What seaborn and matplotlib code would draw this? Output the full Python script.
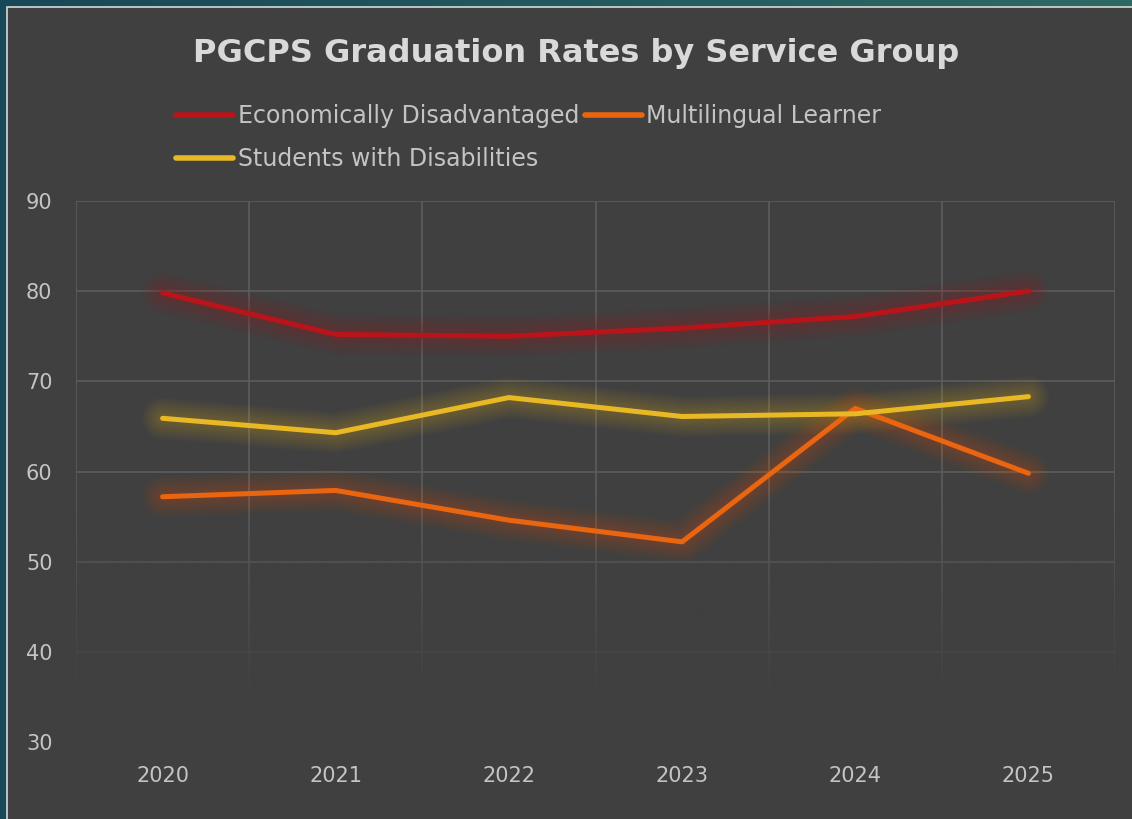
import numpy as np
import pandas as pd
import seaborn as sns
import matplotlib.pyplot as plt
from matplotlib.lines import Line2D
from matplotlib.patches import Rectangle

# DATA
years = [2020, 2021, 2022, 2023, 2024, 2025]
econ_disadv = [79.8, 75.2, 75.0, 75.9, 77.2, 80.0]
multilingual = [57.2, 57.9, 54.6, 52.2, 67.0, 59.8]
disabilities = [65.9, 64.3, 68.2, 66.1, 66.4, 68.3]
groups = ["Economically Disadvantaged", "Multilingual Learner", "Students with Disabilities"]
colors = {"Economically Disadvantaged": "#b8141a",
          "Multilingual Learner": "#ea6510",
          "Students with Disabilities": "#e9b825"}

df = pd.DataFrame({
    "Year": years * 3,
    "Rate": econ_disadv + multilingual + disabilities,
    "Group": [g for g in groups for _ in years],
})

# STYLE
sns.set_style("dark")
plt.rcParams["font.family"] = ["DejaVu Sans"]
bg = "#404040"
txt = "#c4c4c4"

fig = plt.figure(figsize=(11.32, 8.19), dpi=100)

# teal frame + gray panel
back = fig.add_axes([0, 0, 1, 1], zorder=-5)
grad = np.linspace(0, 1, 256).reshape(1, -1)
teal = np.array([[0x17, 0x48, 0x58], [0x2e, 0x6a, 0x64]]) / 255
img = teal[0] + grad[..., None] * (teal[1] - teal[0])
back.imshow(img, aspect="auto", extent=[0, 1, 0, 1])
back.add_patch(Rectangle((7 / 1132, -0.01), 1.01, 1 - 7 / 819 + 0.01,
                         facecolor=bg, edgecolor="#d8d8d8", linewidth=1.2))
back.set_xlim(0, 1)
back.set_ylim(0, 1)
back.axis("off")

ax = fig.add_axes([76 / 1132, 1 - 742 / 819, (1115 - 76) / 1132, (742 - 201) / 819])
ax.set_facecolor("none")

# soft glow underneath
for g in groups:
    sub = df[df["Group"] == g]
    for w in np.arange(6, 32, 2):
        ax.plot(sub["Year"], sub["Rate"], color=colors[g], lw=w, alpha=0.024,
                solid_capstyle="round", solid_joinstyle="round", zorder=1.8)

sns.lineplot(data=df, x="Year", y="Rate", hue="Group", palette=colors,
             linewidth=3.6, legend=False, ax=ax, zorder=2.5)
for ln in ax.lines[-3:]:
    ln.set_solid_capstyle("round")

ax.set_xlim(2019.5, 2025.5)
ax.set_ylim(30, 90)
ax.set_xticks(years)
ax.set_xticks(np.arange(2019.5, 2026, 1), minor=True)
ax.set_yticks(np.arange(30, 91, 10))
ax.grid(False)
ax.grid(True, which="minor", axis="x", color="#5c5c5c", lw=1.2)
ax.grid(True, which="major", axis="y", color="#5c5c5c", lw=1.2)
ax.set_axisbelow(True)
for s in ax.spines.values():
    s.set_visible(False)
ax.tick_params(which="both", length=0)
ax.tick_params(axis="y", pad=17, labelsize=15, labelcolor=txt)
ax.tick_params(axis="x", pad=17, labelsize=15, labelcolor=txt)
ax.set_xlabel("")
ax.set_ylabel("")

# fade the lower grid
fade = np.zeros((200, 1, 4))
fade[..., :3] = np.array([0x40, 0x40, 0x40]) / 255
fade[..., 3] = np.clip(np.linspace(1.3, -0.1, 200), 0, 1)[:, None]
ax.imshow(fade, aspect="auto", extent=[2019.5, 2025.5, 28, 60], origin="lower",
          zorder=1.2, interpolation="bilinear")
ax.set_xlim(2019.5, 2025.5)
ax.set_ylim(30, 90)

fig.text(0.509, 0.935, "PGCPS Graduation Rates by Service Group", ha="center", va="center",
         fontsize=23, fontweight="bold", color="#d9d9d9")

order = ["Economically Disadvantaged", "Students with Disabilities", "Multilingual Learner"]
handles = [Line2D([], [], color=colors[g], lw=4, solid_capstyle="round") for g in order]
fig.legend(handles, order, ncol=2, loc="upper left", bbox_to_anchor=(0.137, 0.899),
           frameon=False, fontsize=17, labelcolor=txt, handlelength=2.4,
           handletextpad=0.2, columnspacing=0.25, labelspacing=0.8)

plt.savefig("out.png", dpi=100, facecolor=fig.get_facecolor())
